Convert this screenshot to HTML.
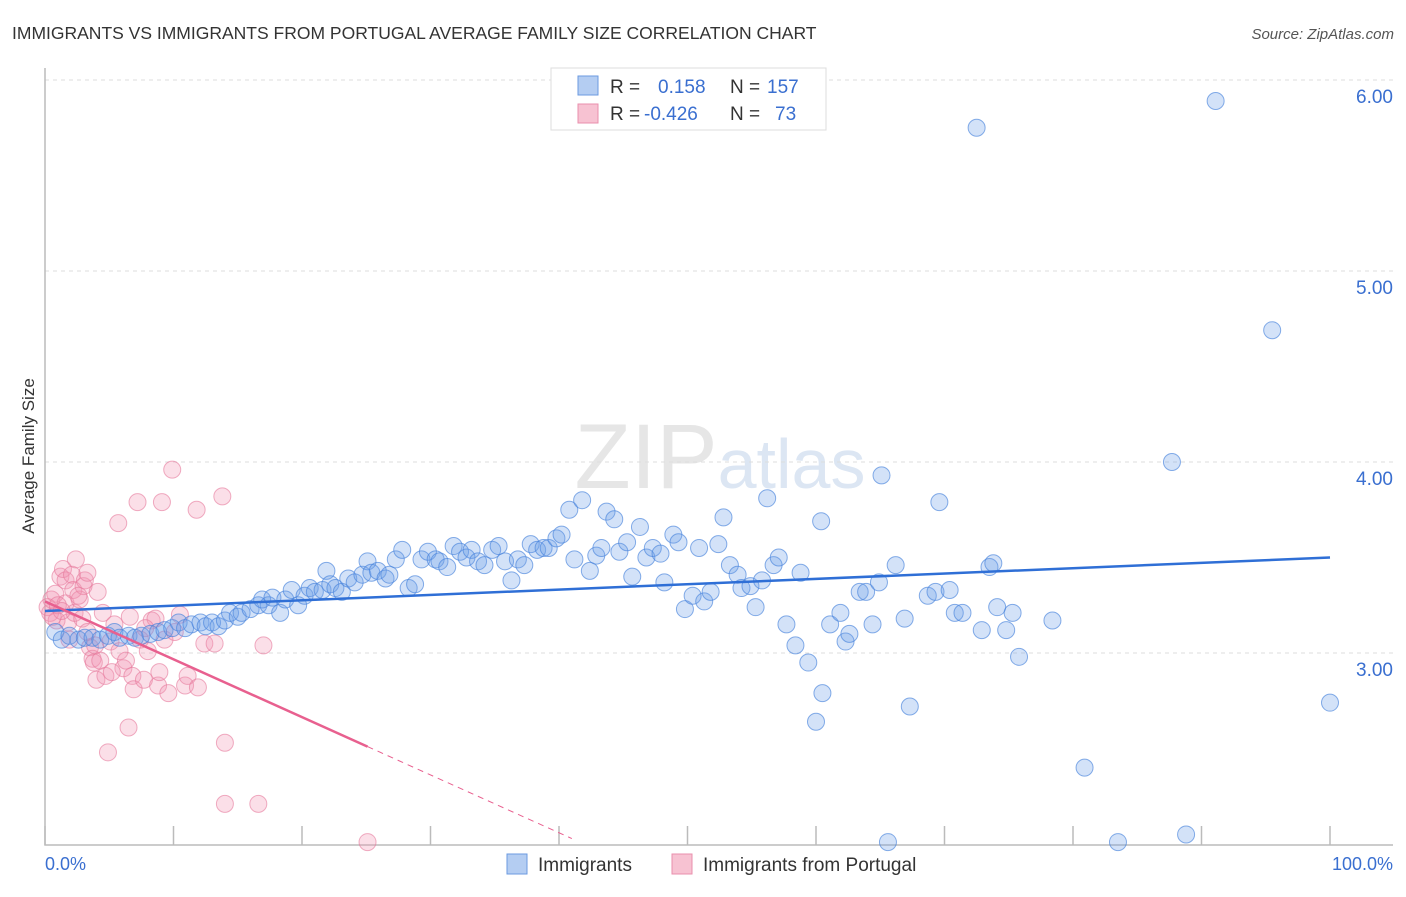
<!DOCTYPE html>
<html><head><meta charset="utf-8"><style>
body{margin:0;background:#fff;font-family:"Liberation Sans",sans-serif}
svg text{font-family:"Liberation Sans",sans-serif}
</style></head><body>
<svg id="chart" width="1406" height="892" xmlns="http://www.w3.org/2000/svg">
<text x="12" y="39" font-size="17.5" fill="#333">IMMIGRANTS VS IMMIGRANTS FROM PORTUGAL AVERAGE FAMILY SIZE CORRELATION CHART</text>
<text x="1394" y="39" font-size="15" fill="#555" text-anchor="end" font-style="italic">Source: ZipAtlas.com</text>
<text x="720" y="488" font-size="92" text-anchor="middle" fill="#e6e6e6" font-family="Liberation Serif">ZIP<tspan fill="#dce6f3" font-family="Liberation Sans" font-size="70">atlas</tspan></text>
<g id="grid"></g>
<g id="axes"></g>
<g id="pink"></g>
<g id="blue"></g>
<g id="trends"></g>
<text transform="translate(34,456) rotate(-90)" font-size="17" fill="#333" text-anchor="middle">Average Family Size</text>
<text x="45" y="870" font-size="18" fill="#3a6fd0">0.0%</text>
<text x="1393" y="870" font-size="18" fill="#3a6fd0" text-anchor="end">100.0%</text>
<g>
<rect x="551" y="68" width="275" height="62" fill="#fff" stroke="#ddd"/>
<rect x="578" y="76" width="20" height="19" fill="#b4cdf2" stroke="#6b9ae0"/>
<rect x="578" y="104" width="20" height="19" fill="#f7c2d2" stroke="#ea8fac"/>
<text x="610" y="93" font-size="19" fill="#333">R =</text><text x="658" y="93" font-size="19" fill="#3a6fd0">0.158</text>
<text x="730" y="93" font-size="19" fill="#333">N =</text><text x="767" y="93" font-size="19" fill="#3a6fd0">157</text>
<text x="610" y="120" font-size="19" fill="#333">R =</text><text x="644" y="120" font-size="19" fill="#3a6fd0">-0.426</text>
<text x="730" y="120" font-size="19" fill="#333">N =</text><text x="775" y="120" font-size="19" fill="#3a6fd0">73</text>
</g>
<g>
<rect x="507" y="854" width="20" height="20" fill="#b4cdf2" stroke="#6b9ae0"/>
<text x="538" y="871" font-size="19" fill="#333">Immigrants</text>
<rect x="672" y="854" width="20" height="20" fill="#f7c2d2" stroke="#ea8fac"/>
<text x="703" y="871" font-size="19" fill="#333">Immigrants from Portugal</text>
</g>
</svg>
<script>
const yTicks=[3,4,5,6];
const yTickLabels=["3.00","4.00","5.00","6.00"];
const xTicks=[0,10,20,30,40,50,60,70,80,90,100];
const blueX=[0.8,1.3,1.9,2.6,3.1,3.7,4.3,4.9,5.4,5.8,6.5,7.0,7.5,8.2,8.8,9.3,9.9,10.4,10.9,11.4,12.1,12.5,13.0,13.5,14.0,14.4,15.0,15.3,16.0,16.6,16.9,17.4,17.7,18.3,18.7,19.2,19.7,20.2,20.6,21.0,21.6,21.9,22.2,22.6,23.1,23.6,24.1,24.7,25.1,25.4,25.9,26.5,26.8,27.3,27.8,28.3,28.8,29.3,29.8,30.4,30.7,31.3,31.8,32.3,32.8,33.2,33.7,34.2,34.8,35.3,35.8,36.3,36.8,37.3,37.8,38.3,38.8,39.2,39.8,40.2,40.8,41.2,41.8,42.4,42.9,43.3,43.7,44.3,44.7,45.3,45.7,46.3,46.8,47.3,47.9,48.2,48.9,49.3,49.8,50.4,50.9,51.3,51.8,52.4,52.8,53.3,53.9,54.2,54.9,55.3,55.8,56.2,56.7,57.1,57.7,58.4,58.8,59.4,60.0,60.4,60.5,61.1,61.9,62.3,62.6,63.4,63.9,64.4,64.9,65.1,65.6,66.2,66.9,67.3,68.7,69.3,69.6,70.4,70.8,71.4,72.5,72.9,73.5,73.8,74.1,74.8,75.3,75.8,78.4,80.9,83.5,87.7,88.8,91.1,95.5,100];
const blueY=[3.11,3.07,3.09,3.07,3.08,3.08,3.07,3.09,3.11,3.08,3.09,3.08,3.09,3.10,3.11,3.12,3.13,3.16,3.13,3.15,3.16,3.14,3.16,3.14,3.17,3.21,3.19,3.21,3.23,3.25,3.28,3.25,3.29,3.21,3.28,3.33,3.25,3.30,3.34,3.32,3.33,3.43,3.36,3.34,3.32,3.39,3.37,3.41,3.48,3.42,3.43,3.39,3.41,3.49,3.54,3.34,3.36,3.49,3.53,3.49,3.48,3.45,3.56,3.53,3.50,3.54,3.48,3.46,3.54,3.56,3.48,3.38,3.49,3.46,3.57,3.54,3.55,3.55,3.60,3.62,3.75,3.49,3.80,3.43,3.51,3.55,3.74,3.70,3.53,3.58,3.40,3.66,3.50,3.55,3.52,3.37,3.62,3.58,3.23,3.30,3.55,3.27,3.32,3.57,3.71,3.46,3.41,3.34,3.35,3.24,3.38,3.81,3.46,3.50,3.15,3.04,3.42,2.95,2.64,3.69,2.79,3.15,3.21,3.06,3.10,3.32,3.32,3.15,3.37,3.93,2.01,3.46,3.18,2.72,3.30,3.32,3.79,3.33,3.21,3.21,5.75,3.12,3.45,3.47,3.24,3.12,3.21,2.98,3.17,2.40,2.01,4.00,2.05,5.89,4.69,2.74];
const pinkX=[0.4,0.5,0.8,0.9,1.2,1.4,1.6,1.6,1.8,1.9,2.1,2.2,2.3,2.4,2.7,2.9,3.0,3.1,3.3,3.3,3.5,3.7,3.8,4.0,4.1,4.3,4.5,4.7,4.9,5.1,5.4,5.7,5.8,6.1,6.3,6.5,6.8,6.9,7.2,7.4,7.7,8.0,8.3,8.6,8.8,8.9,9.1,9.3,9.6,9.9,10.1,10.5,10.9,11.1,11.8,11.9,12.4,13.2,13.8,14.0,14.0,16.6,17.0,25.1,0.2,0.6,1.0,1.3,2.6,3.9,5.2,6.6,7.8];
const pinkY=[3.21,3.28,3.31,3.17,3.40,3.44,3.38,3.26,3.16,3.07,3.41,3.33,3.21,3.49,3.28,3.18,3.35,3.38,3.42,3.11,3.03,2.97,2.95,2.86,3.32,2.96,3.21,2.88,2.48,3.06,3.15,3.68,3.01,2.92,2.96,2.61,2.88,2.81,3.79,3.07,2.86,3.01,3.17,3.18,2.83,2.90,3.79,3.07,2.79,3.96,3.11,3.20,2.83,2.88,3.75,2.82,3.05,3.05,3.82,2.53,2.21,2.21,3.04,2.01,3.24,3.19,3.25,3.22,3.30,3.04,2.90,3.19,3.13];
const blueTrend=[3.22,3.50];      // y at x=0 and x=100
const pinkTrend=[3.27,2.51,25.1,41]; // y at 0, y at solid end, solid end x, dashed end x

const X=v=>45+v*12.85;
const Y=v=>80+(6-v)*191;
const NS="http://www.w3.org/2000/svg";
function mk(tag,parent,attrs){const e=document.createElementNS(NS,tag);for(const k in attrs)e.setAttribute(k,attrs[k]);document.getElementById(parent).appendChild(e);return e;}

yTicks.forEach((t,i)=>{
  const g=mk('line','grid',{x1:45,x2:1393,y1:Y(t),y2:Y(t),stroke:'#ddd','stroke-dasharray':'4,4'});
  
  
  const l=mk('text','grid',{x:1393,y:Y(t)+23,'font-size':19,fill:'#3a6fd0','text-anchor':'end'});
  l.textContent=yTickLabels[i];
  
  
});
const ax=mk('path','axes',{d:'M45,68 V845 H1393',fill:'none',stroke:'#bbb','stroke-width':1.5});


xTicks.forEach(t=>{
  const tk=mk('line','axes',{x1:X(t),x2:X(t),y1:826,y2:845,stroke:'#bbb','stroke-width':1.5});
  
  
});
pinkX.forEach((x,i)=>{
  const c=mk('circle','pink',{cx:X(x),cy:Y(pinkY[i]),r:8.5,fill:'rgba(242,150,178,0.3)',stroke:'rgba(230,120,155,0.6)','stroke-width':1});
  
  
});
blueX.forEach((x,i)=>{
  const c=mk('circle','blue',{cx:X(x),cy:Y(blueY[i]),r:8.5,fill:'rgba(110,160,232,0.3)',stroke:'rgba(70,130,220,0.65)','stroke-width':1});
  
  
});
const bt=mk('line','trends',{x1:X(0),y1:Y(blueTrend[0]),x2:X(100),y2:Y(blueTrend[1]),stroke:'#2f6fd6','stroke-width':2.5});


const slope=(pinkTrend[1]-pinkTrend[0])/pinkTrend[2];
const pt=mk('line','trends',{x1:X(0),y1:Y(pinkTrend[0]),x2:X(pinkTrend[2]),y2:Y(pinkTrend[1]),stroke:'#e8608f','stroke-width':2.5});


const pd=mk('line','trends',{x1:X(pinkTrend[2]),y1:Y(pinkTrend[1]),x2:X(pinkTrend[3]),y2:Y(pinkTrend[0]+slope*pinkTrend[3]),stroke:'#e8608f','stroke-width':1,'stroke-dasharray':'6,5'});


</script>
</body></html>
